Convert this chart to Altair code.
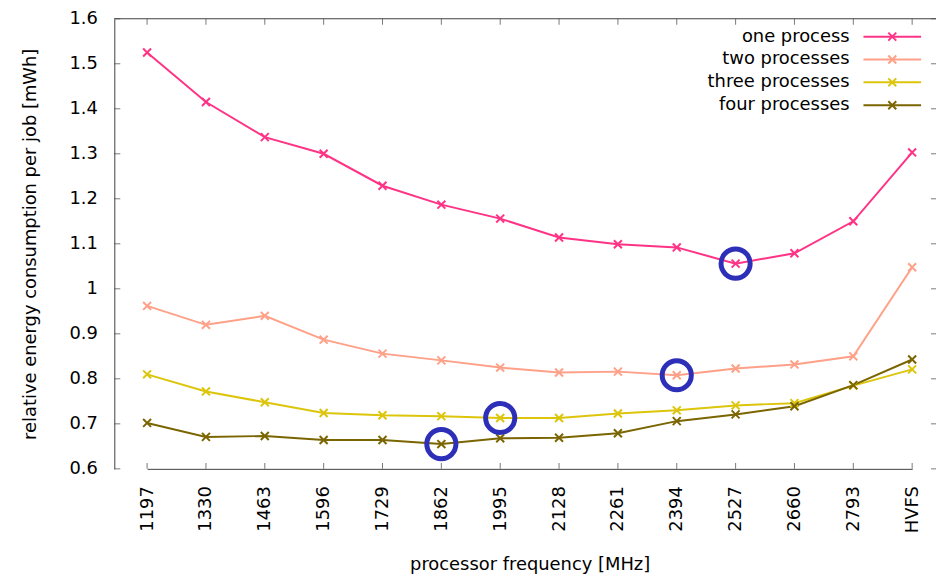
import altair as alt
import pandas as pd

freqs = ["1197", "1330", "1463", "1596", "1729", "1862", "1995", "2128",
         "2261", "2394", "2527", "2660", "2793", "HVFS"]
series = ["one process", "two processes", "three processes", "four processes"]
colors = ["#ff3385", "#ffa088", "#dcc50a", "#7a6500"]

one = [1.525, 1.415, 1.337, 1.300, 1.229, 1.187, 1.156, 1.114, 1.099, 1.092, 1.056, 1.079, 1.150, 1.303]
two = [0.962, 0.920, 0.940, 0.887, 0.856, 0.841, 0.825, 0.814, 0.816, 0.808, 0.823, 0.832, 0.850, 1.048]
three = [0.810, 0.772, 0.748, 0.724, 0.719, 0.717, 0.713, 0.713, 0.723, 0.730, 0.741, 0.746, 0.785, 0.821]
four = [0.702, 0.671, 0.673, 0.664, 0.664, 0.655, 0.668, 0.669, 0.679, 0.706, 0.721, 0.739, 0.786, 0.843]

highlight_series = ["one process", "two processes", "three processes", "four processes"]
highlight_freq = ["2527", "2394", "1995", "1862"]

y_ticks = [0.6, 0.7, 0.8, 0.9, 1.0, 1.1, 1.2, 1.3, 1.4, 1.5, 1.6]

W, H = 827, 453
FONT = "DejaVu Sans"
FS = 18

rows = []
for name, vals in zip(series, [one, two, three, four]):
    for f, v in zip(freqs, vals):
        rows.append({"series": name, "freq": f, "value": v})
df = pd.DataFrame(rows)
hl = df.merge(pd.DataFrame({"series": highlight_series, "freq": highlight_freq}), on=["series", "freq"])
fdf = pd.DataFrame({"freq": freqs})
ydf = pd.DataFrame({"value": y_ticks})
ldf = pd.DataFrame({"series": series})

xscale = alt.Scale(type="point", domain=freqs, range=[33, 803], padding=0)
yscale = alt.Scale(domain=[0.6, 1.6], nice=False, zero=False)
cscale = alt.Scale(domain=series, range=colors)

X = alt.X("freq:N", sort=freqs, scale=xscale, title="processor frequency [MHz]",
          axis=alt.Axis(labelAngle=-90, ticks=False, labelPadding=17, titlePadding=23,
                        domainColor="#404040", grid=False))
Y = alt.Y("value:Q", scale=yscale, title="relative energy consumption per job [mWh]",
          axis=alt.Axis(values=y_ticks, format=".2~f", ticks=False, labelPadding=17,
                        titlePadding=30, domainColor="#404040", grid=False))
C = alt.Color("series:N", scale=cscale, legend=None)

cross = "M-1,-1L1,1M-1,1L1,-1"

lines = alt.Chart(df).mark_line(strokeWidth=2).encode(x=X, y=Y, color=C, detail="series:N")
pts = alt.Chart(df).mark_point(shape=cross, size=64, strokeWidth=2, filled=False, opacity=1).encode(
    x=X, y=Y, color=C)
rings = alt.Chart(hl).mark_point(shape="circle", size=860, strokeWidth=5, filled=False,
                                 color="#2d2fb9", opacity=1).encode(x=X, y=Y)

yt = alt.Chart(ydf).mark_tick(orient="horizontal", size=6, thickness=1, color="#404040").encode(
    y=Y, x=alt.value(3))
yt_r = alt.Chart(ydf).mark_tick(orient="horizontal", size=6, thickness=1, color="#404040").encode(
    y=Y, x=alt.value(W - 2))
xt_b = alt.Chart(fdf).mark_tick(orient="vertical", size=6, thickness=1, color="#404040").encode(
    x=X, y=alt.value(H - 3))
xt_t = alt.Chart(fdf).mark_tick(orient="vertical", size=6, thickness=1, color="#404040").encode(
    x=X, y=alt.value(3))
top = alt.Chart(fdf.head(1)).mark_rule(color="#404040", strokeWidth=1).encode(
    x=alt.value(0), x2=alt.value(W), y=alt.value(0))

data_layer = alt.layer(top, yt, yt_r, xt_b, xt_t, lines, pts, rings)

LY = alt.Y("series:N", sort=series, scale=alt.Scale(type="point", domain=series, range=[18, 87], padding=0),
           axis=None)
leg_text = alt.Chart(ldf).mark_text(align="right", baseline="middle", font=FONT, fontSize=FS,
                                    color="#000000").encode(x=alt.value(740), y=LY, text="series:N")
leg_rule = alt.Chart(ldf).mark_rule(strokeWidth=2).encode(
    x=alt.value(754), x2=alt.value(812), y=LY, color=C)
leg_pt = alt.Chart(ldf).mark_point(shape=cross, size=64, strokeWidth=2, filled=False, opacity=1).encode(
    x=alt.value(783), y=LY, color=C)
legend_layer = alt.layer(leg_text, leg_rule, leg_pt)

chart = alt.layer(data_layer, legend_layer).resolve_scale(y="independent").properties(
    width=W, height=H,
    autosize=alt.AutoSizeParams(type="none"),
    padding={"left": 107, "top": 9, "right": 0, "bottom": 104},
).configure_view(stroke=None).configure_axis(
    labelFont=FONT, titleFont=FONT, labelFontSize=FS, titleFontSize=FS,
    labelColor="#000000", titleColor="#000000", titleFontWeight="normal",
)

chart.save("out.html", embed_options={"renderer": "svg", "actions": False})
